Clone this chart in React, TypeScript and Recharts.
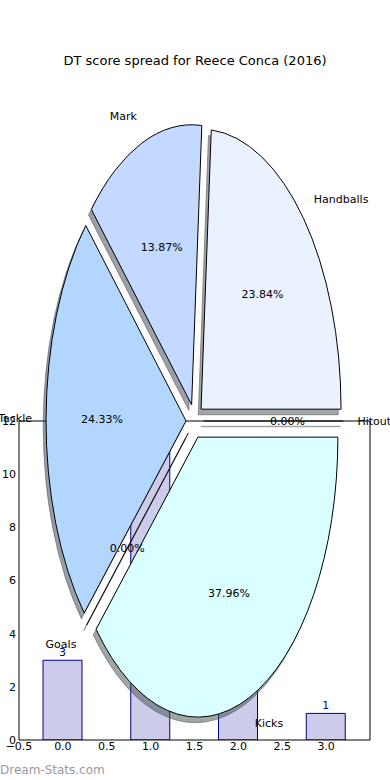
import { ComposedChart, Bar, Line, XAxis, YAxis, LabelList, PieChart, Pie, Cell } from 'recharts'

// pie: DT score share per stat
const sliceNames = ['Handballs', 'Mark', 'Tackle', 'Goals', 'Kicks', 'Hitout']
const slicePcts = [23.84, 13.87, 24.33, 0, 37.96, 0]
const sliceColors = ['#ebf2ff', '#c4d9ff', '#b3d6ff', '#c8e0ff', '#d9ffff', '#e0ecff']

// bars underneath
const barX = [0, 1, 2, 3]
const barValues = [3, 11, 8, 1]
const xTicks = [-0.5, 0, 0.5, 1, 1.5, 2, 2.5, 3, 3.5]
const yTicks = [0, 2, 4, 6, 8, 10, 12]

const pieData = sliceNames.map((name, i) => ({ name, value: slicePcts[i] }))
const barData = barX.map((x, i) => ({ x, v: barValues[i] }))

const RAD = Math.PI / 180
const PIE_CX = 194.7
const PIE_CY = 421
const PIE_R = 140
const STRETCH = 2
const EXPLODE = 0.062
const SHADOW_DX = -2.8
const SHADOW_DY = 5.6
const FONT = '"DejaVu Sans", sans-serif'

const total = slicePcts.reduce((a, b) => a + b, 0)
const midAngles = slicePcts.map(
  (v, i) => ((slicePcts.slice(0, i).reduce((a, b) => a + b, 0) + v / 2) / total) * 360
)

function wedgeTransform(mid: number, sx = 0, sy = 0) {
  const dx = EXPLODE * PIE_R * Math.cos(mid * RAD) + sx
  const dy = -EXPLODE * PIE_R * STRETCH * Math.sin(mid * RAD) + sy
  return `translate(${dx} ${dy}) translate(0 ${PIE_CY}) scale(1 ${STRETCH}) translate(0 ${-PIE_CY})`
}

function shade(hex: string) {
  const n = parseInt(hex.slice(1), 16)
  const r = Math.round(((n >> 16) & 255) * 0.3)
  const g = Math.round(((n >> 8) & 255) * 0.3)
  const b = Math.round((n & 255) * 0.3)
  return `rgb(${r},${g},${b})`
}

const fmtX = (v: number) => (v === 3.5 ? '' : v.toFixed(1).replace('-', '\u2212'))

const renderLabel = (p: any) => {
  const c = Math.cos(p.midAngle * RAD)
  const s = Math.sin(p.midAngle * RAD)
  const r = p.outerRadius
  const ox = p.cx + EXPLODE * r * c
  const oy = p.cy - EXPLODE * r * STRETCH * s
  const ex = ox + r * c
  const ey = oy - r * STRETCH * s
  const empty = Number(p.value) === 0
  return (
    <g>
      {empty && (
        <line
          x1={ox + SHADOW_DX}
          y1={oy + SHADOW_DY}
          x2={ex + SHADOW_DX}
          y2={ey + SHADOW_DY}
          stroke={shade(sliceColors[p.index])}
          strokeOpacity={0.5}
          strokeWidth={1.5}
        />
      )}
      {empty && <line x1={ox} y1={oy} x2={ex} y2={ey} stroke="#000" strokeWidth={1} />}
      <text
        x={ox + 1.1 * r * c}
        y={oy - 1.1 * r * STRETCH * s}
        textAnchor={c > 0 ? 'start' : 'end'}
        dominantBaseline="central"
        fontSize={11}
        fontFamily={FONT}
        fill="#000"
      >
        {p.name}
      </text>
      <text
        x={ox + 0.6 * r * c}
        y={oy - 0.6 * r * STRETCH * s}
        textAnchor="middle"
        dominantBaseline="central"
        fontSize={11}
        fontFamily={FONT}
        fill="#000"
      >
        {`${Number(p.value).toFixed(2)}%`}
      </text>
    </g>
  )
}

export default function App() {
  return (
    <div style={{ position: 'absolute', left: 0, top: 0, width: 390, height: 780, background: '#fff', fontFamily: FONT }}>
      <div style={{ position: 'absolute', left: 0, top: 53, width: 390, textAlign: 'center', fontSize: 13, lineHeight: '16px', color: '#000' }}>
        DT score spread for Reece Conca (2016)
      </div>

      <div style={{ position: 'absolute', left: 0, top: 0 }}>
        <ComposedChart width={390} height={780} data={barData} margin={{ top: 421, right: 20, bottom: 0, left: 0 }}>
          <XAxis
            dataKey="x"
            type="number"
            domain={[-0.5, 3.5]}
            ticks={xTicks}
            allowDataOverflow
            tickFormatter={fmtX}
            height={40}
            stroke="#000"
            tickLine={false}
            tickSize={0}
            tickMargin={2}
            tick={{ fill: '#000', fontSize: 11, fontFamily: FONT }}
          />
          <XAxis xAxisId="btmIn" dataKey="x" type="number" domain={[-0.5, 3.5]} ticks={xTicks} allowDataOverflow mirror tick={false} tickSize={4} height={1} axisLine={false} tickLine={{ stroke: '#999' }} />
          <XAxis xAxisId="top" dataKey="x" orientation="top" type="number" domain={[-0.5, 3.5]} ticks={xTicks} allowDataOverflow mirror tick={false} tickSize={4} height={1} stroke="#000" tickLine={{ stroke: '#999' }} />
          <YAxis
            type="number"
            domain={[0, 12]}
            ticks={yTicks}
            allowDataOverflow
            width={19}
            stroke="#000"
            tickLine={false}
            tickSize={0}
            tickMargin={3}
            tick={{ fill: '#000', fontSize: 11, fontFamily: FONT }}
          />
          <YAxis yAxisId="leftIn" type="number" domain={[0, 12]} ticks={yTicks} allowDataOverflow mirror tick={false} tickSize={4} width={1} axisLine={false} tickLine={{ stroke: '#999' }} />
          <YAxis yAxisId="right" orientation="right" type="number" domain={[0, 12]} ticks={yTicks} allowDataOverflow mirror tick={false} tickSize={4} width={1} stroke="#000" tickLine={{ stroke: '#999' }} />
          <Bar dataKey="v" barSize={39} fill="#ccccea" stroke="#000080" strokeWidth={1} isAnimationActive={false}>
            <LabelList dataKey="v" position="top" offset={4} fill="#000080" fontSize={11} fontFamily={FONT} />
          </Bar>
          {/* invisible series so the frame axes get drawn */}
          <Line xAxisId="btmIn" yAxisId="leftIn" dataKey="v" stroke="none" dot={false} activeDot={false} legendType="none" isAnimationActive={false} />
          <Line xAxisId="top" yAxisId="right" dataKey="v" stroke="none" dot={false} activeDot={false} legendType="none" isAnimationActive={false} />
        </ComposedChart>
      </div>

      <div style={{ position: 'absolute', left: 0, top: 0 }}>
        <PieChart width={390} height={780} margin={{ top: 0, right: 0, bottom: 0, left: 0 }}>
          <Pie
            data={pieData}
            dataKey="value"
            cx={PIE_CX}
            cy={PIE_CY}
            outerRadius={PIE_R}
            startAngle={0}
            endAngle={360}
            isAnimationActive={false}
          >
            {pieData.map((d, i) => (
              <Cell
                key={`sh-${d.name}`}
                fill={shade(sliceColors[i])}
                fillOpacity={0.5}
                stroke={shade(sliceColors[i])}
                strokeOpacity={0.5}
                strokeWidth={1}
                vectorEffect="non-scaling-stroke"
                transform={wedgeTransform(midAngles[i], SHADOW_DX, SHADOW_DY)}
              />
            ))}
          </Pie>
          <Pie
            data={pieData}
            dataKey="value"
            cx={PIE_CX}
            cy={PIE_CY}
            outerRadius={PIE_R}
            startAngle={0}
            endAngle={360}
            label={renderLabel}
            labelLine={false}
            isAnimationActive={false}
          >
            {pieData.map((d, i) => (
              <Cell
                key={`w-${d.name}`}
                fill={sliceColors[i]}
                stroke="#000"
                strokeWidth={1}
                vectorEffect="non-scaling-stroke"
                transform={wedgeTransform(midAngles[i])}
              />
            ))}
          </Pie>
        </PieChart>
      </div>

      <div style={{ position: 'absolute', left: 0, top: 762, fontSize: 12, lineHeight: '16px', color: '#9a9a9a' }}>
        Dream-Stats.com
      </div>
    </div>
  )
}
